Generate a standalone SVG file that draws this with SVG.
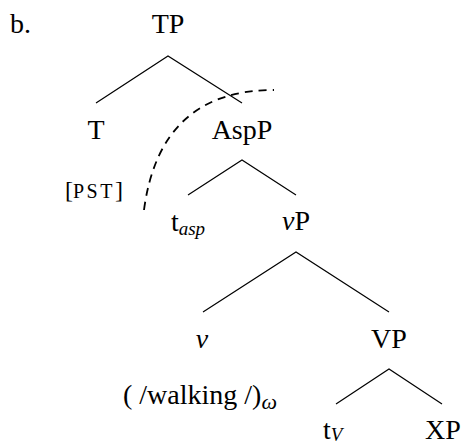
<svg xmlns="http://www.w3.org/2000/svg" width="464" height="442" viewBox="0 0 464 442" font-family="Liberation Serif, 'Times New Roman', serif" font-size="28">
<style>
text{font-family:"Liberation Serif","Times New Roman",serif}
.edge{stroke:#000;stroke-width:1.2;fill:none}
.dash{stroke:#000;stroke-width:1.8;fill:none;stroke-dasharray:8 6}
</style>
<rect width="464" height="442" fill="#fff"/>
<g id="label-b"><text x="10" y="33" font-family="Liberation Serif" font-size="28">b.</text></g>
<g id="TP"><text text-anchor="middle" x="168" y="33" font-family="Liberation Serif" font-size="28">TP</text></g>
<g id="T"><text text-anchor="middle" x="96" y="139" font-family="Liberation Serif" font-size="28">T</text></g>
<g id="PST"><text x="65" y="198" font-family="Liberation Serif" font-size="24">[<tspan font-size="20" letter-spacing="2.5">PST</tspan>]</text></g>
<g id="AspP"><text text-anchor="middle" x="242" y="139" font-family="Liberation Serif" font-size="28">AspP</text></g>
<g id="tasp"><text text-anchor="middle" x="188" y="231" font-family="Liberation Serif" font-size="28">t<tspan font-style="italic" font-size="19" dy="4">asp</tspan></text></g>
<g id="vP"><text text-anchor="middle" x="296" y="230" font-family="Liberation Serif" font-size="28"><tspan font-style="italic">v</tspan>P</text></g>
<g id="v"><text text-anchor="middle" font-style="italic" x="202" y="348" font-family="Liberation Serif" font-size="28">v</text></g>
<g id="VP"><text text-anchor="middle" x="389" y="348" font-family="Liberation Serif" font-size="28">VP</text></g>
<g id="walking"><text x="123" y="404" font-family="Liberation Serif" font-size="28">( /walking /)<tspan font-style="italic" font-size="22" dy="5">ω</tspan></text></g>
<g id="tV"><text x="323" y="439" font-family="Liberation Serif" font-size="28">t<tspan font-style="italic" font-size="19" dy="2">V</tspan></text></g>
<g id="XP"><text text-anchor="middle" x="443" y="439" font-family="Liberation Serif" font-size="28">XP</text></g>
<g id="connectors">
<path class="edge" d="M96,103 L168,56 L242,103"/>
<path class="edge" d="M188,195 L242,160 L296,195"/>
<path class="edge" d="M203,312 L296,252 L389,312"/>
<path class="edge" d="M336,404 L389,369 L442,404"/>
<path class="dash" d="M144,210 Q160,90 274,90"/>
</g>
</svg>
